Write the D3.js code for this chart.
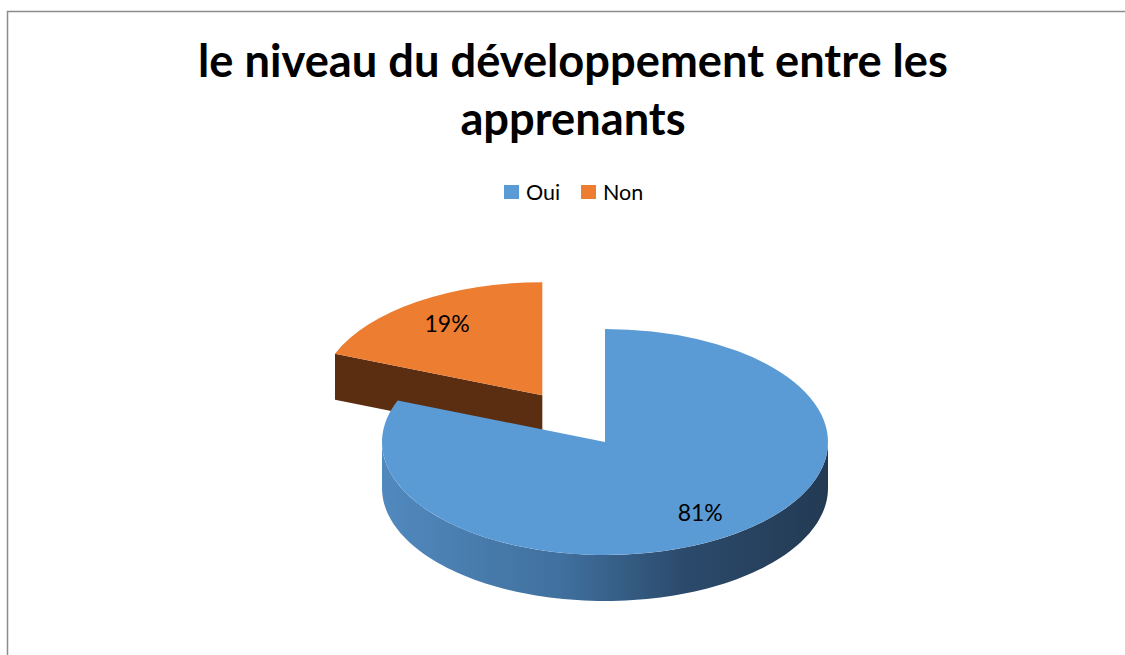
<!DOCTYPE html>
<html>
<head>
<meta charset="utf-8">
<script src="https://cdn.jsdelivr.net/npm/d3@7"></script>
<style>
  body { margin: 0; background: #fff; }
  text { font-family: Lato, "Open Sans", sans-serif; fill: #000; }
</style>
</head>
<body>
<div id="chart"></div>
<script>
var categories = ["Oui", "Non"];
var values = [81, 19];
var exploded = [0, 0.5];
var titleLines = ["le niveau du développement entre les", "apprenants"];

var width = 1125, height = 655;
var topColors = ["#5b9bd5", "#ed7d31"];

var svg = d3.select("#chart").append("svg")
    .attr("width", width)
    .attr("height", height);

// chart frame (runs off the right and bottom edges)
svg.append("rect")
    .attr("x", 7.5).attr("y", 11.5)
    .attr("width", width + 20).attr("height", height + 20)
    .attr("fill", "none")
    .attr("stroke", "#8c8c8c")
    .attr("stroke-width", 1.5);

// gradients for the sides
var defs = svg.append("defs");
var gBlue = defs.append("linearGradient").attr("id", "sideBlue")
    .attr("gradientUnits", "userSpaceOnUse")
    .attr("x1", 383).attr("x2", 828).attr("y1", 0).attr("y2", 0);
[["0%", "#5189be"], ["40%", "#40709e"], ["68%", "#2b4a6b"], ["100%", "#233a53"]].forEach(function(s) {
  gBlue.append("stop").attr("offset", s[0]).attr("stop-color", s[1]);
});
var sideFill = ["url(#sideBlue)", "#5c2e11"];
var cutFill = ["#3d6691", "#5c2e11"];

// title
var title = svg.append("g");
title.selectAll("text")
    .data(titleLines)
    .enter().append("text")
    .attr("x", 573)
    .attr("y", function(d, i) { return 77 + i * 58; })
    .attr("text-anchor", "middle")
    .style("font-weight", "bold")
    .style("font-size", "38px")
    .text(function(d) { return d; });
// fit first line to the reference width
var t0 = title.select("text").node();
var fs = 38 * 750 / t0.getComputedTextLength();
title.selectAll("text").style("font-size", fs + "px");

// legend
var legendX = [504, 581];
var legend = svg.append("g").selectAll("g")
    .data(categories)
    .enter().append("g")
    .attr("transform", function(d, i) { return "translate(" + legendX[i] + ",185)"; });
legend.append("rect")
    .attr("width", 15).attr("height", 14)
    .attr("fill", function(d, i) { return topColors[i]; });
legend.append("text")
    .attr("x", 22).attr("y", 14.5)
    .style("font-size", "21.5px")
    .text(function(d) { return d; });

// 3D pie
var cx = 605, cy = 442, rx = 223, ry = 113, depth = 46;

var pie = d3.pie().sort(null).startAngle(0).endAngle(2 * Math.PI);
var arcs = pie(values);

function pt(a, r, ox, oy) {
  return [ox + rx * r * Math.sin(a), oy - ry * r * Math.cos(a)];
}

var topArc = d3.arc().innerRadius(0).outerRadius(rx);
var line = d3.line();

var pieG = svg.append("g");

// draw back slices first
var order = d3.range(arcs.length).sort(function(a, b) { return exploded[a] - exploded[b]; }).reverse();

order.forEach(function(i) {
  var d = arcs[i];
  var mid = (d.startAngle + d.endAngle) / 2;
  var off = pt(mid, exploded[i], 0, 0);
  var ox = cx + off[0], oy = cy + off[1];
  var g = pieG.append("g");

  // radial cut faces facing the viewer
  [[d.startAngle, -1], [d.endAngle, 1]].forEach(function(f) {
    var a = f[0];
    var facing = f[1] < 0 ? Math.sin(a) < -1e-6 : Math.sin(a) > 1e-6;
    if (!facing) return;
    var p0 = [ox, oy], p1 = pt(a, 1, ox, oy);
    g.append("path")
      .attr("d", line([p0, p1, [p1[0], p1[1] + depth], [p0[0], p0[1] + depth]]) + "Z")
      .attr("fill", cutFill[i]);
  });

  // outer side, visible between 90deg and 270deg
  var a0 = Math.max(d.startAngle, Math.PI / 2), a1 = Math.min(d.endAngle, 3 * Math.PI / 2);
  if (a1 > a0) {
    var steps = d3.range(0, 101).map(function(k) { return a0 + (a1 - a0) * k / 100; });
    var topPts = steps.map(function(a) { return pt(a, 1, ox, oy); });
    var botPts = steps.slice().reverse().map(function(a) { var p = pt(a, 1, ox, oy); return [p[0], p[1] + depth]; });
    g.append("path")
      .attr("d", line(topPts.concat(botPts)) + "Z")
      .attr("fill", sideFill[i]);
  }

  // top face
  g.append("path")
    .attr("transform", "translate(" + ox + "," + oy + ") scale(1," + (ry / rx) + ")")
    .attr("d", topArc(d))
    .attr("fill", topColors[i]);
});

// data labels
var total = d3.sum(values);
arcs.forEach(function(d, i) {
  var mid = (d.startAngle + d.endAngle) / 2;
  var off = pt(mid, exploded[i], 0, 0);
  var p = pt(mid, 0.76, cx + off[0], cy + off[1]);
  svg.append("text")
    .attr("x", p[0]).attr("y", p[1] + 8)
    .attr("text-anchor", "middle")
    .style("font-size", "23px")
    .text(Math.round(values[i] / total * 100) + "%");
});
</script>
</body>
</html>
